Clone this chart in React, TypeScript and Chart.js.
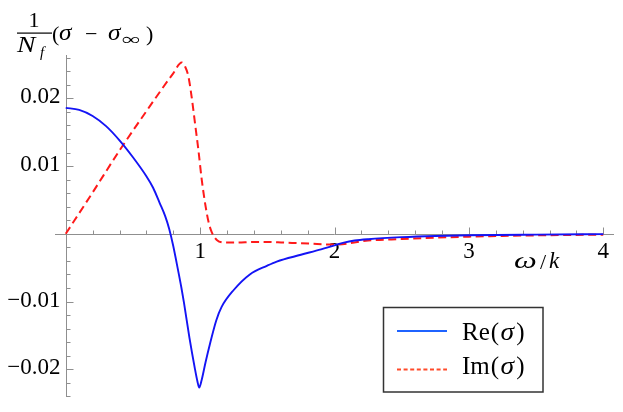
import React, { useEffect, useRef } from "react";
import { Chart, registerables } from "chart.js";

Chart.register(...registerables);

// ---- data ----
const reX = [0, 0.1, 0.2, 0.3, 0.4, 0.5, 0.6, 0.65, 0.7, 0.74, 0.77, 0.8, 0.835, 0.86, 0.88, 0.92, 0.96, 0.98, 0.993, 1.01, 1.04, 1.074, 1.12, 1.16, 1.25, 1.37, 1.5, 1.57, 1.75, 1.9, 2.0, 2.07, 2.15, 2.25, 2.5, 2.75, 3.0, 3.5, 4.0];
const reY = [0.0186, 0.0183, 0.0174, 0.0159, 0.0138, 0.0113, 0.0085, 0.0068, 0.0045, 0.0026, 0.0007, -0.0018, -0.0053, -0.0079, -0.0102, -0.0153, -0.0198, -0.0218, -0.0227, -0.0217, -0.019, -0.0162, -0.0128, -0.0108, -0.0083, -0.006, -0.0047, -0.0041, -0.0031, -0.0023, -0.0017, -0.0013, -0.001, -0.0008, -0.0005, -0.00032, -0.00022, -0.00012, -0.00005];

const imX = [0, 0.2, 0.4, 0.6, 0.8, 0.863, 0.888, 0.913, 0.937, 0.962, 0.987, 1.012, 1.037, 1.062, 1.087, 1.124, 1.19, 1.27, 1.4, 1.5, 1.62, 1.75, 1.87, 2.0, 2.25, 2.5, 2.75, 3.0, 3.25, 3.5, 3.75, 4.0];
const imY = [0, 0.0061, 0.0123, 0.0181, 0.0237, 0.0253, 0.0247, 0.0232, 0.0202, 0.0163, 0.0124, 0.008, 0.0045, 0.0018, 0.0002, -0.0009, -0.0013, -0.0013, -0.0012, -0.0012, -0.0013, -0.0014, -0.0015, -0.0016, -0.001, -0.00077, -0.00057, -0.00042, -0.00032, -0.00023, -0.00017, -0.00013];

const xTickValues = [1, 2, 3, 4];
const xTickLabels = ["1", "2", "3", "4"];
const yTickValues = [-0.02, -0.01, 0.01, 0.02];
const yTickLabels = ["\u22120.02", "\u22120.01", "0.01", "0.02"];
const seriesNames = ["Re", "Im"];

const X_MIN = -0.08, X_MAX = 4.08, Y_MIN = -0.0241, Y_MAX = 0.0264;
const AXIS_COLOR = "#8f8f8f";
const SERIF = "'Liberation Serif', 'Times New Roman', 'DejaVu Serif', serif";

function drawScaled(ctx: any, text: string, x: number, y: number, font: string, sx: number) {
  ctx.save();
  ctx.font = font;
  ctx.translate(x, y);
  ctx.scale(sx, 1);
  ctx.fillText(text, 0, 0);
  ctx.restore();
}

const axesPlugin = {
  id: "mmaAxes",
  beforeDatasetsDraw(chart: any) {
    const { ctx, chartArea: a, scales } = chart;
    const xs = scales.x, ys = scales.y;
    const x0 = Math.round(xs.getPixelForValue(0)) + 0.5;
    const y0 = Math.round(ys.getPixelForValue(0)) + 0.5;
    ctx.save();
    ctx.strokeStyle = AXIS_COLOR;
    ctx.lineWidth = 1;
    ctx.beginPath();
    ctx.moveTo(a.left, y0); ctx.lineTo(a.right, y0);
    ctx.moveTo(x0, a.top); ctx.lineTo(x0, a.bottom);
    for (let i = 1; i <= 20; i++) {
      const px = Math.round(xs.getPixelForValue(i * 0.2)) + 0.5;
      const len = i % 5 === 0 ? 7 : 4;
      ctx.moveTo(px, y0); ctx.lineTo(px, y0 - len);
    }
    for (let i = -12; i <= 13; i++) {
      if (i === 0) continue;
      const py = Math.round(ys.getPixelForValue(i * 0.002)) + 0.5;
      const len = i % 5 === 0 ? 7 : 4;
      ctx.moveTo(x0, py); ctx.lineTo(x0 + len, py);
    }
    ctx.stroke();

    ctx.fillStyle = "#000";
    ctx.font = `23px ${SERIF}`;
    ctx.textAlign = "center";
    ctx.textBaseline = "alphabetic";
    xTickValues.forEach((v, i) => {
      ctx.fillText(xTickLabels[i], xs.getPixelForValue(v), y0 + 23);
    });
    ctx.textAlign = "right";
    ctx.textBaseline = "middle";
    yTickValues.forEach((v, i) => {
      ctx.fillText(yTickLabels[i], x0 - 6, ys.getPixelForValue(v) - 1);
    });
    ctx.restore();
  },
  afterDraw(chart: any) {
    const { ctx } = chart;
    ctx.save();
    ctx.fillStyle = "#000";
    ctx.textBaseline = "alphabetic";
    // y-axis title: 1/N_f (σ − σ_∞)
    ctx.font = `22px ${SERIF}`;
    ctx.textAlign = "center";
    ctx.fillText("1", 34, 27);
    ctx.fillRect(17, 32.5, 35, 1.2);
    ctx.textAlign = "left";
    drawScaled(ctx, "N", 17, 52, `italic 23px ${SERIF}`, 1.2);
    ctx.font = `italic 15px ${SERIF}`;
    ctx.fillText("f", 40, 57);
    ctx.font = `22px ${SERIF}`;
    ctx.fillText("(", 52, 41);
    drawScaled(ctx, "\u03C3", 59, 40, `italic 23px ${SERIF}`, 1.1);
    ctx.font = `22px ${SERIF}`;
    ctx.fillText("\u2212", 85, 41);
    drawScaled(ctx, "\u03C3", 108, 40, `italic 23px ${SERIF}`, 1.1);
    drawScaled(ctx, "\u221E", 122, 45, `17px ${SERIF}`, 1.55);
    ctx.font = `22px ${SERIF}`;
    ctx.fillText(")", 146, 41);

    // x-axis title: ω/k
    drawScaled(ctx, "\u03C9", 514, 268, `italic 23px ${SERIF}`, 1.4);
    ctx.font = `22px ${SERIF}`;
    ctx.fillText("/", 540, 269);
    ctx.font = `italic 23px ${SERIF}`;
    ctx.fillText("k", 549, 268);

    // legend
    const lx = 383.5, ly = 307.5, lw = 159.5, lh = 84.5;
    ctx.fillStyle = "#fff";
    ctx.fillRect(lx, ly, lw, lh);
    ctx.strokeStyle = "#333";
    ctx.lineWidth = 1.5;
    ctx.strokeRect(lx, ly, lw, lh);

    ctx.lineWidth = 2;
    ctx.strokeStyle = "#1f63ff";
    ctx.beginPath(); ctx.moveTo(397, 331); ctx.lineTo(447, 331); ctx.stroke();
    ctx.strokeStyle = "#ff4a2a";
    ctx.setLineDash([4, 2.6]);
    ctx.beginPath(); ctx.moveTo(397, 369.5); ctx.lineTo(447, 369.5); ctx.stroke();
    ctx.setLineDash([]);

    const drawEntry = (name: string, y: number) => {
      let x = 462;
      ctx.fillStyle = "#000";
      ctx.font = `25px ${SERIF}`;
      ctx.fillText(name, x, y);
      x += ctx.measureText(name).width + 1;
      ctx.fillText("(", x, y);
      x += ctx.measureText("(").width + 1.5;
      drawScaled(ctx, "\u03C3", x, y, `italic 25px ${SERIF}`, 1.1);
      ctx.font = `italic 25px ${SERIF}`;
      x += ctx.measureText("\u03C3").width * 1.1 + 2;
      ctx.font = `25px ${SERIF}`;
      ctx.fillText(")", x, y);
    };
    drawEntry(seriesNames[0], 339.5);
    drawEntry(seriesNames[1], 373.5);
    ctx.restore();
  },
};

export default function App() {
  const ref = useRef<HTMLCanvasElement | null>(null);
  useEffect(() => {
    let chart: any = null;
    let cancelled = false;
    const build = () => {
      if (cancelled || !ref.current) return;
      chart = new Chart(ref.current, {
        type: "line",
        data: {
          datasets: [
            {
              label: "Re(σ)",
              data: reX.map((x, i) => ({ x, y: reY[i] })),
              borderColor: "#1414f5",
              borderWidth: 1.9,
              pointRadius: 0,
              cubicInterpolationMode: "monotone",
              fill: false,
            },
            {
              label: "Im(σ)",
              data: imX.map((x, i) => ({ x, y: imY[i] })),
              borderColor: "#ff1a1a",
              borderWidth: 2,
              borderDash: [8, 4.5],
              pointRadius: 0,
              cubicInterpolationMode: "monotone",
              fill: false,
            },
          ],
        },
        options: {
          animation: false,
          responsive: false,
          devicePixelRatio: 1,
          layout: { padding: { left: 55, right: 9, top: 55, bottom: 15 } },
          scales: {
            x: { type: "linear", min: X_MIN, max: X_MAX, display: false },
            y: { type: "linear", min: Y_MIN, max: Y_MAX, display: false },
          },
          plugins: { legend: { display: false }, tooltip: { enabled: false } },
          events: [],
        },
        plugins: [axesPlugin],
      } as any);
    };
    const loads = [
      "23px 'Liberation Serif'",
      "italic 23px 'Liberation Serif'",
    ].map((f) => (document as any).fonts.load(f, "0.1σω∞−Re").catch(() => null));
    Promise.all(loads).then(build, build);
    return () => {
      cancelled = true;
      if (chart) chart.destroy();
    };
  }, []);
  return (
    <div style={{ position: "fixed", left: 0, top: 0, width: 623, height: 412, background: "#fff" }}>
      <canvas ref={ref} width={623} height={412} style={{ width: 623, height: 412, display: "block" }} />
    </div>
  );
}
